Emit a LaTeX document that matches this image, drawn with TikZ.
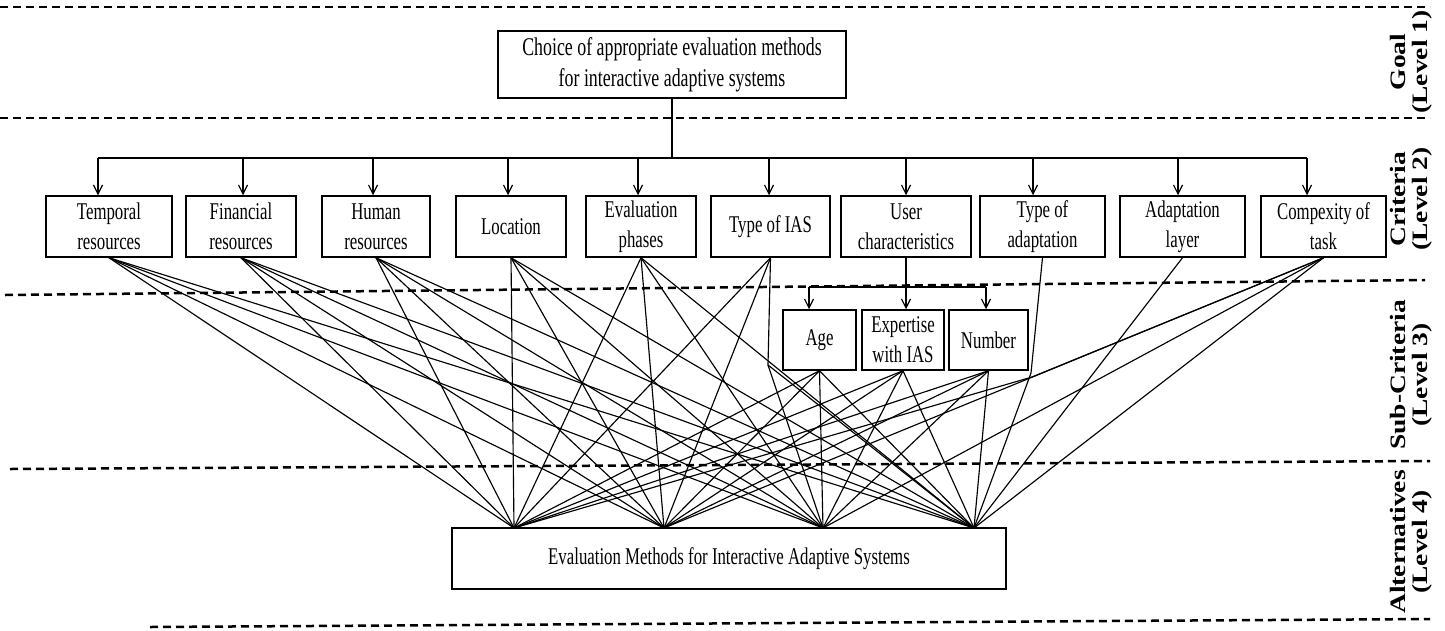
\documentclass[tikz,border=0pt]{standalone}
\usepackage{graphicx}
\usepackage{fontspec}
\setmainfont{Liberation Serif}[FakeStretch=0.7]
\newfontfamily\lblfont{Liberation Serif}
\usetikzlibrary{arrows.meta,backgrounds}
\newcommand\lvltext[2]{\scalebox{1}[0.8]{\lblfont\bfseries\fontsize{27.5}{28}\selectfont\begin{tabular}{@{}c@{}}#1\\#2\end{tabular}}}
\begin{document}
\begin{tikzpicture}[x=1pt,y=-1pt,
  box/.style={draw, fill=white, line width=1.5pt, inner sep=0pt, align=center, font=\fontsize{24}{30}\selectfont},
  sz/.style 2 args={minimum width=#1pt, minimum height=#2pt},
  conn/.style={line width=1.15pt},
  arr/.style={line width=1.15pt, -{Straight Barb[length=9pt,width=9pt]}},
  sep/.style={line width=2.5pt, dash pattern=on 8pt off 5pt},
  lvl/.style={rotate=90, inner sep=0pt}]
\useasboundingbox (0,0) rectangle (1445,630);

% level separators
\coordinate (d1a) at (0,7);    \coordinate (d1b) at (1430,7);
\coordinate (d2a) at (0,118);  \coordinate (d2b) at (1430,118);
\coordinate (d3a) at (5,295);  \coordinate (d3b) at (1425,280);
\coordinate (d4a) at (10,469); \coordinate (d4b) at (1430,461);
\coordinate (d5a) at (150,627);\coordinate (d5b) at (1430,619);
\draw[sep] (d1a) -- (d1b);
\draw[sep] (d2a) -- (d2b);
\draw[sep] (d3a) -- (d3b);
\draw[sep] (d4a) -- (d4b);
\draw[sep] (d5a) -- (d5b);

% goal
\node[box, sz={348}{67}, font=\fontsize{25.5}{31}\selectfont] (goal) at (672,64.5) {Choice of appropriate evaluation methods\\for interactive adaptive systems};

% criteria
\node[box, sz={126}{61}] (temporal)   at (109,226.5)   {Temporal\\resources};
\node[box, sz={110}{61}] (financial)  at (241,226.5)   {Financial\\resources};
\node[box, sz={108}{61}] (human)      at (376,226.5)   {Human\\resources};
\node[box, sz={110}{61}] (location)   at (511,226.5)   {Location};
\node[box, sz={110}{61}] (evalph)     at (641,226.5)   {Evaluation\\phases};
\node[box, sz={119}{61}] (typeias)    at (770.5,226.5) {Type of IAS};
\node[box, sz={130}{61}] (userchar)   at (906,226.5)   {User\\characteristics};
\node[box, sz={125}{61}] (typeadapt)  at (1042.5,226.5){Type of\\adaptation};
\node[box, sz={125}{61}] (adaptlayer) at (1182.5,226.5){Adaptation\\layer};
\node[box, sz={125}{61}] (complexity) at (1323.5,226.5){Compexity of\\task};

% sub-criteria
\node[box, sz={73}{60}] (age)       at (819.5,340) {Age};
\node[box, sz={82}{60}] (expertise) at (903,340)   {Expertise\\with IAS};
\node[box, sz={79}{60}] (number)    at (988.5,340) {Number};

% alternatives
\node[box, sz={554}{61}] (alt) at (729,558.5) {Evaluation Methods for Interactive Adaptive Systems};

% goal -> criteria bus
\coordinate (b1) at (98,158);   \coordinate (b2) at (243,158);
\coordinate (b3) at (373,158);  \coordinate (b4) at (508,158);
\coordinate (b5) at (638,158);  \coordinate (b6) at (769,158);
\coordinate (b7) at (906,158);  \coordinate (b8) at (1033,158);
\coordinate (b9) at (1178,158); \coordinate (b10) at (1307,158);
\draw[conn] (goal.south) -- (goal.south |- b1);
\draw[conn] (b1) -- (b10);
\draw[arr] (b1) -- (b1 |- temporal.north);
\draw[arr] (b2) -- (b2 |- financial.north);
\draw[arr] (b3) -- (b3 |- human.north);
\draw[arr] (b4) -- (b4 |- location.north);
\draw[arr] (b5) -- (b5 |- evalph.north);
\draw[arr] (b6) -- (b6 |- typeias.north);
\draw[arr] (b7) -- (b7 |- userchar.north);
\draw[arr] (b8) -- (b8 |- typeadapt.north);
\draw[arr] (b9) -- (b9 |- adaptlayer.north);
\draw[arr] (b10) -- (b10 |- complexity.north);

% user characteristics -> sub-criteria
\coordinate (s1) at (809,287); \coordinate (s3) at (986,287);
\draw[conn] (s1) -- (s3);
\draw[arr] (userchar.south) -- (userchar.south |- expertise.north);
\draw[arr] (s1) -- (s1 |- age.north);
\draw[arr] (s3) -- (s3 |- number.north);

% alternatives connection points and bends
\coordinate (t1) at (514,528); \coordinate (t2) at (664,528);
\coordinate (t3) at (823,528); \coordinate (t4) at (974,528);
\coordinate (jx) at (768,365);
\coordinate (jc) at (1032,377);
\coordinate (ja) at (1031,373);

\begin{scope}[on background layer]
\foreach \s in {temporal,financial,human,location,evalph,age,expertise,number}
  \foreach \t in {t1,t2,t3,t4}
    \draw[conn] (\s.south) -- (\t);
\draw[conn] (typeias.south) -- (t1);
\draw[conn] (typeias.south) -- (t2);
\draw[conn] (typeias.south) -- (jx) -- (t3);
\draw[conn] (jx) -- (t4);
\draw[conn] (complexity.south) -- (jc) -- (t1);
\draw[conn] (complexity.south) -- (t2);
\draw[conn] (complexity.south) -- (t3);
\draw[conn] (complexity.south) -- (t4);
\draw[conn] (typeadapt.south) -- (ja) -- (t4);
\draw[conn] (adaptlayer.south) -- (t4);
\end{scope}

% level labels
\node[lvl] (lgoal) at (1412,62)  {\lvltext{Goal}{(Level 1)}};
\node[lvl] (lcrit) at (1412,199) {\lvltext{Criteria}{(Level 2)}};
\node[lvl] (lsub)  at (1412,375) {\lvltext{Sub-Criteria}{(Level 3)}};
\node[lvl] (lalt)  at (1412,542) {\lvltext{Alternatives}{(Level 4)}};
\end{tikzpicture}
\end{document}
